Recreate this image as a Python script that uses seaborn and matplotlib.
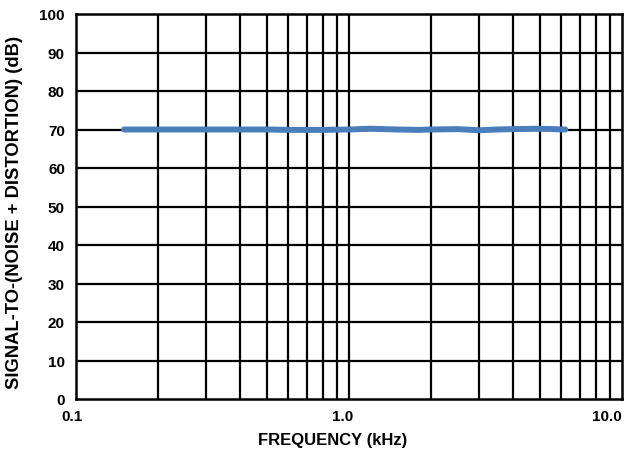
import numpy as np
import pandas as pd
import matplotlib
matplotlib.use("Agg")
import matplotlib.pyplot as plt
import matplotlib.transforms as mtransforms
import seaborn as sns

freq_khz = [0.15, 0.2, 0.3, 0.4, 0.5, 0.6, 0.8, 1.0, 1.2, 1.5, 1.8, 2.0, 2.5, 3.0, 3.5, 4.0, 5.0, 6.2]
sinad_db = [70.0, 70.0, 70.0, 70.0, 70.0, 69.9, 69.9, 70.0, 70.2, 70.0, 69.9, 70.0, 70.1, 69.8, 70.0, 70.1, 70.2, 70.0]
x_ticks = [0.1, 1.0, 10.0]
x_tick_labels = ["0.1", "1.0", "10.0"]
y_ticks = list(range(0, 101, 10))

sns.set_theme(style="white")
plt.rcParams['font.family'] = ['Liberation Sans', 'DejaVu Sans']
plt.rcParams['text.color'] = 'black'
plt.rcParams['axes.labelcolor'] = 'black'
plt.rcParams['xtick.color'] = 'black'
plt.rcParams['ytick.color'] = 'black'

df = pd.DataFrame({"freq": freq_khz, "sinad": sinad_db})

fig = plt.figure(figsize=(6.3, 4.56), dpi=100)
ax = fig.add_axes([76/630, 1-400/456, (622-76)/630, (400-15)/456])

sns.lineplot(data=df, x="freq", y="sinad", ax=ax, color="#4A7EBB", linewidth=4.3, zorder=3)

ax.set_xscale("log")
ax.set_xlim(0.1, 10)
ax.set_ylim(0, 100)

minor = [m * d for d in (0.1, 1.0) for m in range(2, 10)]
for xv in minor + [1.0]:
    ax.axvline(xv, color="black", linewidth=1.6, zorder=1)
for yv in y_ticks[1:-1]:
    ax.axhline(yv, color="black", linewidth=1.6, zorder=1)

ax.set_xticks(x_ticks)
ax.set_xticklabels(x_tick_labels)
ax.set_xticks([], minor=True)
ax.set_yticks(y_ticks)
ax.tick_params(axis="x", length=0, labelsize=11, pad=7, labelcolor="black")
ax.tick_params(axis="y", length=0, labelsize=11, pad=8, labelcolor="black")
for lbl in ax.get_xticklabels() + ax.get_yticklabels():
    lbl.set_fontweight("bold")

xlbls = ax.get_xticklabels()
offsets_px = [-4, -6, 0]
for lbl, off in zip(xlbls, offsets_px):
    lbl.set_transform(lbl.get_transform() + mtransforms.ScaledTranslation(off / 100, 0, fig.dpi_scale_trans))
xlbls[-1].set_horizontalalignment("right")

for s in ax.spines.values():
    s.set_color("black")
    s.set_linewidth(1.8)
    s.set_visible(True)

ax.set_xlabel("FREQUENCY (kHz)", fontsize=12, fontweight="bold", color="black")
ax.xaxis.label.set_va("center")
ax.xaxis.set_label_coords((333 - 76) / 546, -41 / 385)
ax.set_ylabel("SIGNAL-TO-(NOISE + DISTORTION) (dB)", fontsize=13.2, fontweight="bold", color="black")
ax.yaxis.label.set_va("center")
ax.yaxis.set_label_coords((15 - 76) / 546, (400 - 212) / 385)

fig.savefig("out.png", dpi=100)
